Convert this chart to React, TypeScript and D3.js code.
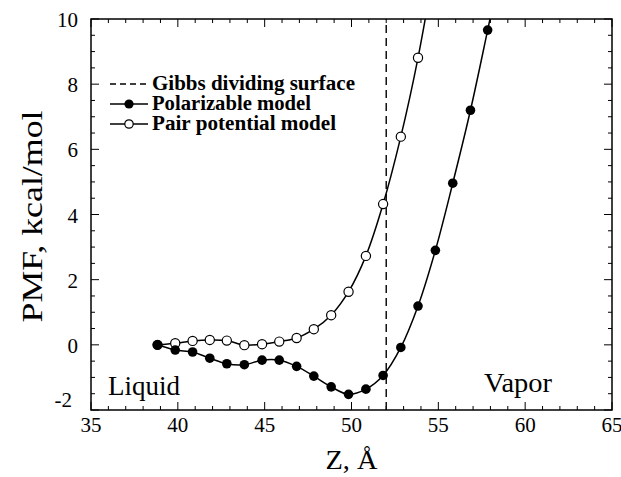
import React from "react";
import * as d3 from "d3";

const polZ = [38.83, 39.85, 40.85, 41.84, 42.82, 43.83, 44.85, 45.84, 46.84, 47.83, 48.83, 49.83, 50.83, 51.82, 52.84, 53.83, 54.83, 55.83, 56.85, 57.84, 58.6];
const polPMF = [0.0, -0.16, -0.22, -0.41, -0.58, -0.61, -0.47, -0.47, -0.66, -0.96, -1.29, -1.52, -1.36, -0.94, -0.08, 1.19, 2.9, 4.96, 7.2, 9.66, 11.6];

const pairZ = [38.83, 39.85, 40.85, 41.84, 42.82, 43.83, 44.85, 45.84, 46.84, 47.83, 48.83, 49.83, 50.83, 51.82, 52.84, 53.83, 54.83];
const pairPMF = [0.0, 0.05, 0.12, 0.15, 0.13, -0.01, 0.02, 0.1, 0.21, 0.48, 0.91, 1.63, 2.73, 4.32, 6.39, 8.81, 11.8];

// number of measured points (the last entry only continues the curve beyond the frame)
const polShown = 20;
const pairShown = 16;

const gibbsZ = 52;

const xTicks = [35, 40, 45, 50, 55, 60, 65];
const yTicks = [-2, 0, 2, 4, 6, 8, 10];

const legendLabels = ["Gibbs dividing surface", "Polarizable model", "Pair potential model"];
const legendWidths = [203, 159, 184];

const W = 621;
const H = 477;
const M = { left: 91, right: 612, top: 19, bottom: 410 };
const FONT = "Times New Roman";

export default function App() {
  const x = d3.scaleLinear().domain([35, 65]).range([M.left, M.right]);
  const y = d3.scaleLinear().domain([-2, 10]).range([M.bottom, M.top]);

  const line = d3
    .line<[number, number]>()
    .x((d) => x(d[0]))
    .y((d) => y(d[1]))
    .curve(d3.curveCatmullRom.alpha(0.5));

  const pol: [number, number][] = polZ.map((z, i) => [z, polPMF[i]]);
  const pair: [number, number][] = pairZ.map((z, i) => [z, pairPMF[i]]);

  const xMinor = d3.range(35, 65.001, 1);
  const yMinor = d3.range(-2, 10.001, 0.5);

  const isMajorX = (v: number) => Math.abs(v % 5) < 1e-6;
  const isMajorY = (v: number) => Math.abs(v % 2) < 1e-6;

  const lx0 = 110;
  const lx1 = 148;
  const legY = [84, 104, 124];

  return (
    <svg width={W} height={H} fontFamily={FONT} style={{ position: "absolute", left: 0, top: 0, fontFamily: FONT }}>
      <rect x={0} y={0} width={W} height={H} fill="white" />
      <defs>
        <clipPath id="plot">
          <rect x={M.left} y={M.top} width={M.right - M.left} height={M.bottom - M.top} />
        </clipPath>
      </defs>

      {/* ticks */}
      {xMinor.map((v) => {
        const len = isMajorX(v) ? 8 : 4;
        return (
          <g key={"xt" + v}>
            <line x1={x(v)} x2={x(v)} y1={M.bottom} y2={M.bottom - len} stroke="black" strokeWidth={1} />
            <line x1={x(v)} x2={x(v)} y1={M.top} y2={M.top + len} stroke="black" strokeWidth={1} />
          </g>
        );
      })}
      {yMinor.map((v) => {
        const len = isMajorY(v) ? 8 : 4;
        return (
          <g key={"yt" + v}>
            <line x1={M.left} x2={M.left + len} y1={y(v)} y2={y(v)} stroke="black" strokeWidth={1} />
            <line x1={M.right} x2={M.right - len} y1={y(v)} y2={y(v)} stroke="black" strokeWidth={1} />
          </g>
        );
      })}

      {/* tick labels */}
      {xTicks.map((v) => (
        <text key={"xl" + v} x={x(v)} y={432} textAnchor="middle" fontFamily={FONT} fontSize={21}>
          {v}
        </text>
      ))}
      {yTicks.map((v) => (
        <text
          key={"yl" + v}
          x={v === -2 ? 72 : 78}
          y={y(v) + (v === -2 ? -3 : 8)}
          textAnchor="end"
          fontFamily={FONT}
          fontSize={21}
        >
          {v}
        </text>
      ))}

      {/* axis titles */}
      <text
        x={(M.left + M.right) / 2}
        y={469}
        textAnchor="middle"
        fontFamily={FONT}
        fontSize={28}
        textLength={52}
        lengthAdjust="spacingAndGlyphs"
      >
        Z, Å
      </text>
      <text
        transform={`translate(42, ${(M.top + M.bottom) / 2 + 2}) rotate(-90)`}
        textAnchor="middle"
        fontFamily={FONT}
        fontSize={30}
        textLength={212}
        lengthAdjust="spacingAndGlyphs"
      >
        PMF, kcal/mol
      </text>

      {/* Gibbs dividing surface */}
      <line
        x1={x(gibbsZ)}
        x2={x(gibbsZ)}
        y1={M.bottom}
        y2={M.top}
        stroke="#111"
        strokeWidth={1.5}
        strokeDasharray="8,5"
      />

      <g clipPath="url(#plot)">
        <path d={line(pair) || ""} fill="none" stroke="black" strokeWidth={1.5} />
        <path d={line(pol) || ""} fill="none" stroke="black" strokeWidth={1.5} />
        {pair.slice(0, pairShown).map((d, i) => (
          <circle key={"pc" + i} cx={x(d[0])} cy={y(d[1])} r={4.6} fill="white" stroke="black" strokeWidth={1.2} />
        ))}
        {pol.slice(0, polShown).map((d, i) => (
          <circle key={"fc" + i} cx={x(d[0])} cy={y(d[1])} r={4.8} fill="black" />
        ))}
      </g>

      {/* frame */}
      <rect
        x={M.left}
        y={M.top}
        width={M.right - M.left}
        height={M.bottom - M.top}
        fill="none"
        stroke="black"
        strokeWidth={1.5}
      />

      {/* region labels */}
      <text x={108} y={395} fontFamily={FONT} fontSize={27} textLength={72} lengthAdjust="spacingAndGlyphs">
        Liquid
      </text>
      <text x={484} y={392} fontFamily={FONT} fontSize={27} textLength={68} lengthAdjust="spacingAndGlyphs">
        Vapor
      </text>

      {/* legend */}
      <line x1={lx0} x2={lx1} y1={legY[0]} y2={legY[0]} stroke="black" strokeWidth={1.3} strokeDasharray="6,4" />
      <line x1={lx0} x2={lx1} y1={legY[1]} y2={legY[1]} stroke="black" strokeWidth={1.5} />
      <circle cx={(lx0 + lx1) / 2} cy={legY[1]} r={4.6} fill="black" />
      <line x1={lx0} x2={lx1} y1={legY[2]} y2={legY[2]} stroke="black" strokeWidth={1.5} />
      <circle cx={(lx0 + lx1) / 2} cy={legY[2]} r={4.2} fill="white" stroke="black" strokeWidth={1.2} />
      {legendLabels.map((t, i) => (
        <text
          key={t}
          x={152}
          y={legY[i] + 6}
          fontFamily={FONT}
          fontSize={20}
          fontWeight="bold"
          textLength={legendWidths[i]}
          lengthAdjust="spacingAndGlyphs"
        >
          {t}
        </text>
      ))}
    </svg>
  );
}
